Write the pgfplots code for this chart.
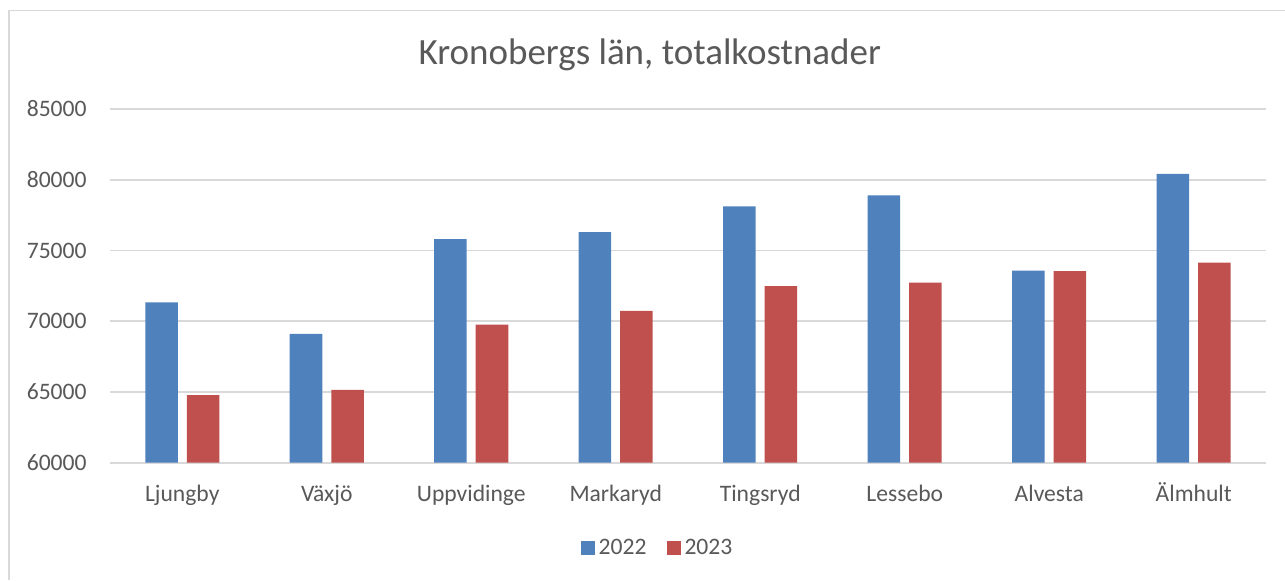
\documentclass[border=0pt]{standalone}
\usepackage{pgfplots}
\pgfplotsset{compat=1.18}
\usepackage{fontspec}
\setmainfont{Carlito}
\definecolor{blue22}{HTML}{4F81BD}
\definecolor{red23}{HTML}{C0504D}
\definecolor{txt}{HTML}{595959}
\definecolor{gridc}{HTML}{D9D9D9}
\pgfplotsset{sqlegend/.style={legend image code/.code={\fill[##1] (0pt,-3.5pt) rectangle (7pt,3.5pt);}}}
\begin{document}
\begin{tikzpicture}
\useasboundingbox (0,0) rectangle (642.5pt,-290pt);
\fill[white] (0,0) rectangle (642.5pt,-290pt);
\draw[gridc, line width=0.75pt] (4.5pt,-290pt) -- (4.5pt,-5.25pt) -- (642.5pt,-5.25pt);
\node[anchor=base, text=txt, font=\fontsize{18.5}{22}\selectfont, inner sep=0pt] at (324.9pt,-32.15pt) {Kronobergs län, totalkostnader};
\begin{axis}[
 at={(55pt,-231.35pt)}, anchor=south west,
 scale only axis, width=578pt, height=176.85pt,
 xmin=-0.5, xmax=7.5, ymin=60000, ymax=85000,
 ytick={60000,65000,70000,75000,80000,85000},
 xtick={0,1,2,3,4,5,6,7},
 xticklabels={Ljungby,Växjö,Uppvidinge,Markaryd,Tingsryd,Lessebo,Alvesta,Älmhult},
 ybar=4.5pt, bar width=16.25pt,
 axis line style={draw=none},
 major tick length=0pt,
 ymajorgrids, grid style={gridc, line width=0.8pt},
 tick label style={text=txt, font=\fontsize{11.8}{14}\selectfont},
 yticklabel style={anchor=east, inner sep=0pt, xshift=-11.5pt, /pgf/number format/1000 sep={}},
 xticklabel style={anchor=base, inner sep=0pt, yshift=-19.5pt},
 /pgf/number format/assume math mode=true,
 scaled y ticks=false,
 legend style={at={(0.4745,-0.2412)}, anchor=center, draw=none, fill=none,
   legend columns=2, font=\fontsize{11.8}{14}\selectfont, text=txt,
   /tikz/every even column/.append style={column sep=8pt}},
]
\addplot[fill=blue22, draw=none, sqlegend] coordinates {(0,71340) (1,69110) (2,75810) (3,76300) (4,78110) (5,78890) (6,73580) (7,80420)};
\addplot[fill=red23, draw=none, sqlegend] coordinates {(0,64770) (1,65140) (2,69760) (3,70730) (4,72480) (5,72720) (6,73540) (7,74150)};
\legend{2022,2023}
\end{axis}
\end{tikzpicture}
\end{document}
